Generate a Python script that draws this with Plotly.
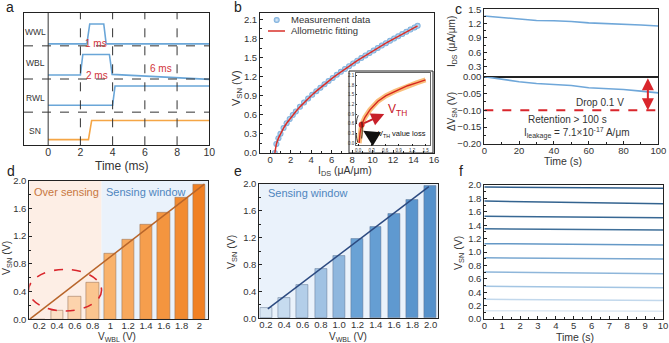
import plotly.graph_objects as go

W, H = 669, 343
FONT = "Liberation Sans, Arial, sans-serif"
TXT = "#333333"

def dx(a, b):
    return [a / W, b / W]

def dy(top, bottom):
    return [1 - bottom / H, 1 - top / H]

def px(x):
    return x / W

def py(y):
    return 1 - y / H

# ---------------- data ----------------
# panel a: timing signals
sig_names = ["WWL", "WBL", "RWL", "SN"]
wwl_t = [0, 2.4, 2.58, 3.45, 3.6, 10]
wwl_v = [3.06, 3.06, 3.66, 3.66, 3.06, 3.06]
wbl_t = [0, 2.0, 2.15, 3.8, 3.97, 10]
wbl_v = [2.12, 2.12, 2.74, 2.74, 2.14, 1.99]
rwl_t = [0, 4.0, 4.15, 10]
rwl_v = [1.21, 1.21, 1.79, 1.79]
sn_t = [0, 2.5, 2.7, 10]
sn_v = [0.17, 0.17, 0.75, 0.75]

# panel b: V_SN vs I_DS
ids = [0.45, 0.6, 0.8, 1.0, 1.3, 1.6, 1.9, 2.2, 2.5, 2.9, 3.3, 3.7, 4.1, 4.5, 4.9,
       5.3, 5.7, 6.1, 6.5, 6.9, 7.3, 7.7, 8.1, 8.5, 8.9, 9.3, 9.7, 10.1, 10.5, 10.9,
       11.3, 11.7, 12.1, 12.5, 12.9, 13.3, 13.7, 14.1, 14.4]
vsn = [0.0, 0.142, 0.233, 0.303, 0.391, 0.467, 0.534, 0.596, 0.653, 0.725, 0.792,
       0.855, 0.915, 0.972, 1.027, 1.080, 1.131, 1.180, 1.228, 1.275, 1.320, 1.365,
       1.408, 1.451, 1.492, 1.533, 1.573, 1.612, 1.651, 1.689, 1.726, 1.763, 1.799,
       1.835, 1.871, 1.905, 1.940, 1.974, 1.999]
inset_x = [0.02, 0.04, 0.075, 0.15, 0.26, 0.44, 0.62, 0.81, 1.1, 1.3, 1.5]
inset_y = [0.0, 0.3, 0.57, 0.8, 1.03, 1.3, 1.47, 1.6, 1.78, 1.87, 1.96]

# panel c: retention
ret_t = [0, 10, 20, 30, 40, 45, 50, 60, 70, 80, 90, 100]
ret_ids = [1.36, 1.33, 1.29, 1.265, 1.26, 1.26, 1.245, 1.215, 1.205, 1.19, 1.17, 1.15]
ret_dv = [0.0, -0.008, -0.015, -0.02, -0.022, -0.023, -0.026, -0.033, -0.035, -0.038, -0.043, -0.048]

# panel d / e: sensing
vwbl = [0.2, 0.4, 0.6, 0.8, 1.0, 1.2, 1.4, 1.6, 1.8, 2.0]
d_vsn = [0.0, 0.13, 0.325, 0.524, 0.951, 1.15, 1.36, 1.544, 1.752, 1.937]
d_colors = ["#FDEBDA", "#FCE0C6", "#FCD3AC", "#FBC58F", "#F9B26B", "#F8A85C",
            "#F69E4D", "#F4953F", "#F28B31", "#F08024"]
d_line_x = [0.09, 2.056]
d_line_y = [0.0, 1.95]
e_vsn = [0.149, 0.298, 0.496, 0.73, 0.933, 1.18, 1.365, 1.553, 1.762, 1.97]
e_colors = ["#D8E6F3", "#C6DBEF", "#B3CEE9", "#A0C2E3", "#8FB7DE", "#6AA2D5",
            "#659ED3", "#5F99D0", "#5A95CD", "#5490CA"]
e_line_x = [0.22, 1.98]
e_line_y = [0.14, 1.96]

# panel f: V_SN retention for each level
f_t = [0, 5, 10]
f_levels = [
    [1.97, 1.96, 1.95],
    [1.76, 1.74, 1.72],
    [1.535, 1.52, 1.51],
    [1.346, 1.335, 1.327],
    [1.125, 1.115, 1.105],
    [0.914, 0.905, 0.895],
    [0.70, 0.69, 0.676],
    [0.488, 0.478, 0.468],
    [0.295, 0.285, 0.275],
    [0.124, 0.119, 0.114],
]
f_colors = ["#2F5E8C", "#33638F", "#386894", "#3F6F99", "#6498C6", "#7AA8D1",
            "#8EB6DA", "#A3C5E3", "#C2D8EC", "#DCE8F3"]

fig = go.Figure()

# ---------------- panel a ----------------
blue_sig = "#6AA6D8"
for tt, vv, col in [(wwl_t, wwl_v, blue_sig), (wbl_t, wbl_v, blue_sig),
                    (rwl_t, rwl_v, blue_sig), (sn_t, sn_v, "#F5A646")]:
    fig.add_trace(go.Scatter(x=tt, y=vv, mode="lines", line=dict(color=col, width=1.6),
                             xaxis="x", yaxis="y", showlegend=False))

# ---------------- panel b ----------------
fig.add_trace(go.Scatter(x=ids, y=vsn, mode="markers",
                         marker=dict(size=6, color="#6FA7D9",
                                     gradient=dict(type="radial", color="#EAF3FB"),
                                     line=dict(width=0)),
                         xaxis="x2", yaxis="y2", showlegend=False))
fig.add_trace(go.Scatter(x=ids, y=vsn, mode="lines", line=dict(color="#D9302A", width=1.5),
                         xaxis="x2", yaxis="y2", showlegend=False))
# inset
fig.add_trace(go.Scatter(x=inset_x, y=inset_y, mode="lines", line=dict(color="#F7A94F", width=5),
                         opacity=0.75, xaxis="x3", yaxis="y3", showlegend=False))
fig.add_trace(go.Scatter(x=inset_x, y=inset_y, mode="lines", line=dict(color="#D7261E", width=1.4),
                         xaxis="x3", yaxis="y3", showlegend=False))
fig.add_trace(go.Scatter(x=[inset_x[2]], y=[inset_y[2]], mode="markers",
                         marker=dict(size=6, color="#D7261E"),
                         xaxis="x3", yaxis="y3", showlegend=False))

# ---------------- panel c ----------------
fig.add_trace(go.Scatter(x=ret_t, y=ret_ids, mode="lines", line=dict(color="#6FA7D9", width=1.6),
                         xaxis="x4", yaxis="y4", showlegend=False))
fig.add_trace(go.Scatter(x=ret_t, y=ret_dv, mode="lines", line=dict(color="#6FA7D9", width=1.6),
                         xaxis="x5", yaxis="y5", showlegend=False))
fig.add_trace(go.Scatter(x=[0, 100], y=[-0.1, -0.1], mode="lines",
                         line=dict(color="#D9262C", width=2, dash="dash"),
                         xaxis="x5", yaxis="y5", showlegend=False))

# ---------------- panel d ----------------
fig.add_trace(go.Bar(x=vwbl, y=d_vsn, width=0.14,
                     marker=dict(color=d_colors, line=dict(color="rgba(150,115,90,0.7)", width=0.8)),
                     xaxis="x6", yaxis="y6", showlegend=False))
fig.add_trace(go.Scatter(x=d_line_x, y=d_line_y, mode="lines", line=dict(color="#B8652A", width=1.5),
                         xaxis="x6", yaxis="y6", showlegend=False))

# ---------------- panel e ----------------
fig.add_trace(go.Bar(x=vwbl, y=e_vsn, width=0.13,
                     marker=dict(color=e_colors, line=dict(color="rgba(90,110,140,0.6)", width=0.8)),
                     xaxis="x7", yaxis="y7", showlegend=False))
fig.add_trace(go.Scatter(x=e_line_x, y=e_line_y, mode="lines", line=dict(color="#2C4A80", width=1.5),
                         xaxis="x7", yaxis="y7", showlegend=False))

# ---------------- panel f ----------------
for lv, col in zip(f_levels, f_colors):
    fig.add_trace(go.Scatter(x=f_t, y=lv, mode="lines", line=dict(color=col, width=1.5),
                             xaxis="x8", yaxis="y8", showlegend=False))

# ---------------- axes ----------------
tickfont = dict(family=FONT, size=9.5, color=TXT)
MINC = "#222222"

def box_axis(**kw):
    base = dict(showline=True, linecolor="#222222", linewidth=1, mirror=True,
                showgrid=False, zeroline=False, tickfont=tickfont,
                ticks="inside", ticklen=3, tickcolor="#222222", automargin=False)
    base.update(kw)
    return base

inset_font = dict(family=FONT, size=4.5, color=TXT)
SO = -2

layout_axes = dict(
    # a
    xaxis=box_axis(domain=dx(24, 209.3), range=[-1.5, 10], anchor="y", ticklabelstandoff=-3,
                   tickvals=[0, 2, 4, 6, 8, 10], ticks="", tickfont=dict(family=FONT, size=10.5, color=TXT)),
    yaxis=box_axis(domain=dy(12.7, 145.3), range=[0, 4], anchor="x", showticklabels=False, ticks=""),
    # b
    xaxis2=box_axis(domain=dx(260, 434), range=[-1, 16], anchor="y2", dtick=2, ticklabelstandoff=SO,
                    minor=dict(ticks="inside", ticklen=2, dtick=1, tickcolor=MINC)),
    yaxis2=box_axis(domain=dy(13, 153), range=[0, 2.2], anchor="x2", dtick=0.3, tick0=0,
                    tickformat=".1f", minor=dict(ticks="inside", ticklen=2, dtick=0.15, tickcolor=MINC)),
    # inset
    xaxis3=box_axis(domain=dx(356, 430), range=[-0.05, 1.6], anchor="y3", dtick=0.3, tick0=0,
                    tickformat=".1f", ticklen=1.5, linewidth=0.6, linecolor="#666666",
                    tickfont=inset_font),
    yaxis3=box_axis(domain=dy(72.5, 145.3), range=[-0.07, 2.19], anchor="x3", dtick=0.3, tick0=0,
                    tickformat=".1f", ticklen=1.5, linewidth=0.6, linecolor="#666666",
                    tickfont=inset_font),
    # c top
    xaxis4=box_axis(domain=dx(484.3, 658.3), range=[0, 100], anchor="y4", showticklabels=False,
                    dtick=20, ticks=""),
    yaxis4=box_axis(domain=dy(9.3, 76.7), range=[0.09, 1.5], anchor="x4", tickvals=[0.3, 0.6, 0.9, 1.2, 1.5],
                    tickformat=".1f", minor=dict(ticks="inside", ticklen=2, dtick=0.15, tickcolor=MINC)),
    # c bottom
    xaxis5=box_axis(domain=dx(484.3, 658.3), range=[0, 100], anchor="y5", dtick=20, ticklabelstandoff=SO,
                    minor=dict(ticks="inside", ticklen=2, dtick=10, tickcolor=MINC)),
    yaxis5=box_axis(domain=dy(76.7, 144), range=[-0.2, 0], anchor="x5", dtick=0.05, tick0=0,
                    tickformat=".2f", minor=dict(ticks="inside", ticklen=2, dtick=0.025, tickcolor=MINC)),
    # d
    xaxis6=box_axis(domain=dx(29.3, 208.3), range=[0.088, 2.1], anchor="y6", tickvals=vwbl,
                    ticklabelstandoff=-3,
                    ticktext=["0.2", "0.4", "0.6", "0.8", "1", "1.2", "1.4", "1.6", "1.8", "2"], ticks=""),
    yaxis6=box_axis(domain=dy(180.7, 319.3), range=[0, 2.0], anchor="x6", dtick=0.4, tick0=0,
                    tickformat=".1f", minor=dict(ticks="inside", ticklen=2, dtick=0.2, tickcolor=MINC)),
    # e
    xaxis7=box_axis(domain=dx(259.3, 438.3), range=[0.127, 2.083], anchor="y7", tickvals=vwbl,
                    ticklabelstandoff=-3, tickformat=".1f", ticks=""),
    yaxis7=box_axis(domain=dy(184, 318.3), range=[0, 2.0], anchor="x7", dtick=0.4, tick0=0,
                    tickformat=".1f", minor=dict(ticks="inside", ticklen=2, dtick=0.2, tickcolor=MINC)),
    # f
    xaxis8=box_axis(domain=dx(484.3, 663), range=[0, 10], anchor="y8", dtick=1, ticklabelstandoff=SO,
                    minor=dict(ticks="inside", ticklen=2, dtick=0.5, tickcolor=MINC)),
    yaxis8=box_axis(domain=dy(185, 319), range=[0, 2.0], anchor="x8", dtick=0.2, tick0=0,
                    tickformat=".1f", minor=dict(ticks="inside", ticklen=2, dtick=0.1, tickcolor=MINC)),
)

shapes = []
# panel a dashed grid
for yv in [1, 2, 3]:
    shapes.append(dict(type="line", xref="x", yref="y", x0=-1.5, x1=10, y0=yv, y1=yv,
                       line=dict(color="#333333", width=1, dash="dash")))
for xv in [2, 4, 6, 8]:
    shapes.append(dict(type="line", xref="x", yref="y", x0=xv, x1=xv, y0=0, y1=4,
                       line=dict(color="#333333", width=1, dash="dash")))
shapes.append(dict(type="line", xref="x", yref="y", x0=0, x1=0, y0=0, y1=4,
                   line=dict(color="#333333", width=1)))
# inset frame in b
shapes.append(dict(type="rect", xref="paper", yref="paper", x0=px(349), x1=px(433), y0=py(153),
                   y1=py(71), line=dict(color="#222222", width=1), fillcolor="white", layer="below"))
# inset dashed ellipse
shapes.append(dict(type="circle", xref="x3", yref="y3", x0=-0.05, x1=0.09, y0=-0.03, y1=0.88,
                   line=dict(color="#111111", width=0.8, dash="dash")))
# legend in b
shapes.append(dict(type="line", xref="paper", yref="paper", x0=px(268), x1=px(285), y0=py(31),
                   y1=py(31), line=dict(color="#D9302A", width=1.5)))
# panel d backgrounds
shapes.append(dict(type="rect", xref="x6", yref="y6", x0=0.088, x1=0.9, y0=0, y1=2.0,
                   fillcolor="#FDEEE5", line=dict(width=0), layer="below"))
shapes.append(dict(type="rect", xref="x6", yref="y6", x0=0.9, x1=2.1, y0=0, y1=2.0,
                   fillcolor="#EAF2FB", line=dict(width=0), layer="below"))
shapes.append(dict(type="circle", xref="x6", yref="y6", x0=0.08, x1=0.9, y0=0.12, y1=0.72,
                   line=dict(color="#D9262C", width=1.6, dash="dash")))
# panel e background
shapes.append(dict(type="rect", xref="x7", yref="y7", x0=0.127, x1=2.083, y0=0, y1=2.0,
                   fillcolor="#EAF2FB", line=dict(width=0), layer="below"))

ann = []
def A(text, x, y, xref="paper", yref="paper", size=10, color=TXT, angle=0, xanchor="center",
      yanchor="middle"):
    ann.append(dict(text=text, x=x, y=y, xref=xref, yref=yref, showarrow=False, textangle=angle,
                    font=dict(family=FONT, size=size, color=color), xanchor=xanchor, yanchor=yanchor))

# panel letters
for lab, x, y in [("a", 10, 7), ("b", 238, 7), ("c", 458, 9), ("d", 11, 171), ("e", 238, 171), ("f", 461, 171)]:
    A(lab, px(x), py(y), size=14, color="#222222")

# panel a labels
for nm, yv in zip(sig_names, [3.43, 2.48, 1.42, 0.42]):
    A(nm, -0.8, yv, xref="x", yref="y", size=8.5)
A("1 ms", 2.95, 3.08, xref="x", yref="y", size=10, color="#D2343A")
A("2 ms", 3.05, 2.1, xref="x", yref="y", size=10, color="#D2343A")
A("6 ms", 7.0, 2.32, xref="x", yref="y", size=10, color="#D2343A")
A("Time (ms)", px(122), py(165.5), size=12)

# panel b labels
A("V<sub>SN</sub> (V)", px(237), py(88), size=11, angle=-90)
A("I<sub>DS</sub> (μA/μm)", px(345), py(170.5), size=10.5)
fig.add_trace(go.Scatter(x=[px(276.7)], y=[py(20)], mode="markers",
                         marker=dict(size=6, color="#6FA7D9", gradient=dict(type="radial", color="#EAF3FB")),
                         xaxis="x9", yaxis="y9", showlegend=False))
A("Measurement data", px(289), py(20), size=9.5, xanchor="left")
A("Allometric fitting", px(289), py(31), size=9.5, xanchor="left")
# inset annotations
A("V<sub>TH</sub>", px(397), py(110), size=12, color="#C8202A")
ann.append(dict(x=0.58, y=0.9, ax=0.1, ay=0.6, xref="x3", yref="y3", axref="x3", ayref="y3",
                showarrow=True, arrowhead=2, arrowsize=1.3, arrowwidth=2, arrowcolor="#C8202A", text=""))
A("V<sub>TH</sub> value loss", px(402), py(133.5), size=7.5, color="#111111")
ann.append(dict(x=0.11, y=0.38, ax=0.3, ay=0.22, xref="x3", yref="y3", axref="x3", ayref="y3",
                showarrow=True, arrowhead=2, arrowsize=1.6, arrowwidth=2, arrowcolor="#111111", text=""))

# panel c labels
A("I<sub>DS</sub> (μA/μm)", px(452), py(42), size=10, angle=-90)
A("ΔV<sub>SN</sub> (V)", px(452), py(112), size=10, angle=-90)
A("Time (s)", px(563), py(161), size=10.5)
A("Drop 0.1 V", 66.5, -0.077, xref="x5", yref="y5", size=10)
A("Retention > 100 s", 48, -0.127, xref="x5", yref="y5", size=10)
A("I<sub>leakage</sub> = 7.1×10<sup>-17</sup> A/μm", 53, -0.168, xref="x5", yref="y5", size=10)
ann.append(dict(x=94, y=-0.1, ax=94, ay=0.0, xref="x5", yref="y5", axref="x5", ayref="y5",
                showarrow=True, arrowhead=2, arrowside="end+start", arrowsize=1.2, arrowwidth=2,
                arrowcolor="#D9262C", text=""))

# panel d labels
A("V<sub>SN</sub> (V)", px(7), py(258), size=10.5, angle=-90)
A("V<sub>WBL</sub> (V)", px(117), py(337), size=10)
A("Over sensing", px(32), py(192.5), size=11, color="#C87740", xanchor="left")
A("Sensing window", px(104), py(192.5), size=11, color="#4F86BE", xanchor="left")

# panel e labels
A("V<sub>SN</sub> (V)", px(232), py(252), size=10.5, angle=-90)
A("V<sub>WBL</sub> (V)", px(348), py(337), size=10)
A("Sensing window", px(266), py(193), size=11, color="#4F86BE", xanchor="left")

# panel f labels
A("V<sub>SN</sub> (V)", px(459), py(253), size=10.5, angle=-90)
A("Time (s)", px(575), py(336.5), size=10.5)

layout_axes["xaxis9"] = dict(domain=[0, 1], range=[0, 1], visible=False, anchor="y9")
layout_axes["yaxis9"] = dict(domain=[0, 1], range=[0, 1], visible=False, anchor="x9")

fig.update_layout(width=W, height=H, margin=dict(l=0, r=0, t=0, b=0),
                  paper_bgcolor="white", plot_bgcolor="rgba(0,0,0,0)",
                  font=dict(family=FONT, size=10, color=TXT),
                  shapes=shapes, annotations=ann, bargap=0, showlegend=False, **layout_axes)

fig.write_html("out.html")
